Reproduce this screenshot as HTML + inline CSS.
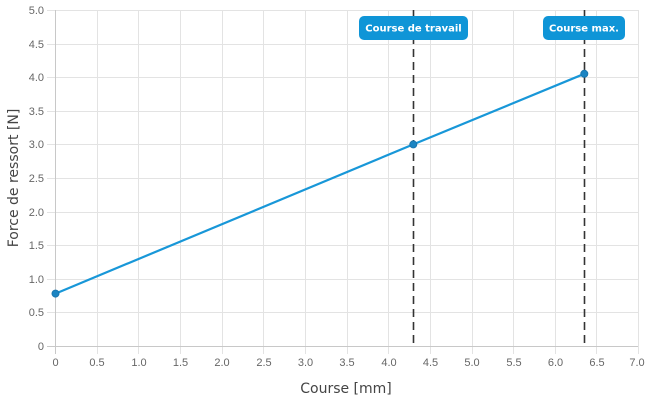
<!DOCTYPE html>
<html><head><meta charset="utf-8"><style>
html,body{margin:0;padding:0;background:#fff;width:650px;height:400px;overflow:hidden}
svg{display:block}
.t{font-family:"Liberation Sans",Arial,sans-serif;font-size:11px;fill:#666}
.a{font-family:"DejaVu Sans","Liberation Sans",sans-serif;font-size:14px;fill:#444}
.l{font-family:"DejaVu Sans","Liberation Sans",sans-serif;font-size:10px;font-weight:bold;fill:#fff}
</style></head><body>
<svg width="650" height="400" viewBox="0 0 650 400" xmlns="http://www.w3.org/2000/svg">
<g stroke="#e3e3e3" stroke-width="1" shape-rendering="crispEdges">
<line x1="47" y1="10.5" x2="638" y2="10.5"/>
<line x1="47" y1="44.5" x2="638" y2="44.5"/>
<line x1="47" y1="77.5" x2="638" y2="77.5"/>
<line x1="47" y1="111.5" x2="638" y2="111.5"/>
<line x1="47" y1="144.5" x2="638" y2="144.5"/>
<line x1="47" y1="178.5" x2="638" y2="178.5"/>
<line x1="47" y1="212.5" x2="638" y2="212.5"/>
<line x1="47" y1="245.5" x2="638" y2="245.5"/>
<line x1="47" y1="279.5" x2="638" y2="279.5"/>
<line x1="47" y1="312.5" x2="638" y2="312.5"/>
<line x1="97.5" y1="10" x2="97.5" y2="354"/>
<line x1="138.5" y1="10" x2="138.5" y2="354"/>
<line x1="180.5" y1="10" x2="180.5" y2="354"/>
<line x1="222.5" y1="10" x2="222.5" y2="354"/>
<line x1="263.5" y1="10" x2="263.5" y2="354"/>
<line x1="305.5" y1="10" x2="305.5" y2="354"/>
<line x1="347.5" y1="10" x2="347.5" y2="354"/>
<line x1="388.5" y1="10" x2="388.5" y2="354"/>
<line x1="430.5" y1="10" x2="430.5" y2="354"/>
<line x1="472.5" y1="10" x2="472.5" y2="354"/>
<line x1="513.5" y1="10" x2="513.5" y2="354"/>
<line x1="555.5" y1="10" x2="555.5" y2="354"/>
<line x1="596.5" y1="10" x2="596.5" y2="354"/>
<line x1="638.5" y1="10" x2="638.5" y2="354"/>
</g>
<g stroke="#c8c8c8" stroke-width="1" shape-rendering="crispEdges">
<line x1="55.5" y1="10" x2="55.5" y2="354"/>
<line x1="47" y1="346.5" x2="638" y2="346.5"/>
</g>
<g class="t" text-anchor="end">
<text x="44" y="14">5.0</text>
<text x="44" y="48">4.5</text>
<text x="44" y="81">4.0</text>
<text x="44" y="115">3.5</text>
<text x="44" y="148">3.0</text>
<text x="44" y="182">2.5</text>
<text x="44" y="216">2.0</text>
<text x="44" y="249">1.5</text>
<text x="44" y="283">1.0</text>
<text x="44" y="316">0.5</text>
<text x="44" y="350">0</text>
</g>
<g class="t" text-anchor="middle">
<text x="55.5" y="366">0</text>
<text x="97" y="366">0.5</text>
<text x="139" y="366">1.0</text>
<text x="180.5" y="366">1.5</text>
<text x="222" y="366">2.0</text>
<text x="264" y="366">2.5</text>
<text x="305.5" y="366">3.0</text>
<text x="347" y="366">3.5</text>
<text x="389" y="366">4.0</text>
<text x="430.5" y="366">4.5</text>
<text x="472" y="366">5.0</text>
<text x="514" y="366">5.5</text>
<text x="555.5" y="366">6.0</text>
<text x="597" y="366">6.5</text>
<text x="637" y="366">7.0</text>
</g>
<text class="a" x="346" y="393" text-anchor="middle">Course [mm]</text>
<text class="a" transform="translate(18,178) rotate(-90)" text-anchor="middle">Force de ressort [N]</text>
<g stroke="#333" stroke-width="1.6" stroke-dasharray="8,5">
<line x1="413.5" y1="10" x2="413.5" y2="346"/>
<line x1="584.5" y1="10" x2="584.5" y2="346"/>
</g>
<polyline points="55.5,293.6 413.3,144.4 584.3,73.8" fill="none" stroke="#1897d8" stroke-width="2.2"/>
<g fill="#1b84c2" stroke="#1a76ae" stroke-width="1">
<circle cx="55.5" cy="293.6" r="3.5"/>
<circle cx="413.3" cy="144.4" r="3.5"/>
<circle cx="584.3" cy="73.8" r="3.5"/>
</g>
<rect x="359" y="16" width="109" height="24" rx="5" fill="#0f95d7"/>
<text class="l" x="413.5" y="31.5" text-anchor="middle">Course de travail</text>
<rect x="543" y="16" width="82" height="24" rx="5" fill="#0f95d7"/>
<text class="l" x="584" y="31.5" text-anchor="middle">Course max.</text>
</svg>
</body></html>
